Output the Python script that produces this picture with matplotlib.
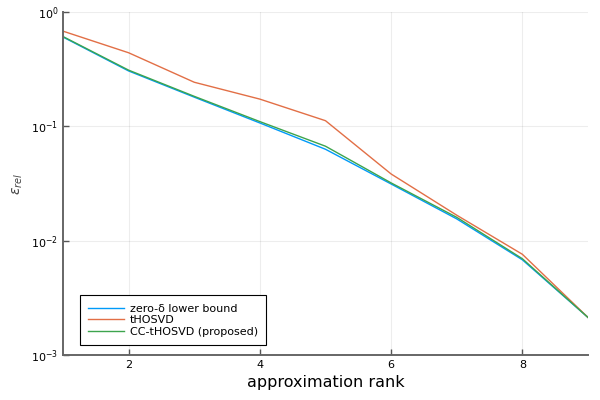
import matplotlib
matplotlib.use("Agg")
import matplotlib.pyplot as plt

ranks = [1, 2, 3, 4, 5, 6, 7, 8, 9]
zero_delta = [0.604, 0.305, 0.180, 0.107, 0.063, 0.0313, 0.0155, 0.0068, 0.00213]
thosvd = [0.68, 0.44, 0.243, 0.173, 0.112, 0.0383, 0.0167, 0.0076, 0.00213]
cc_thosvd = [0.61, 0.31, 0.183, 0.110, 0.067, 0.032, 0.016, 0.00695, 0.00213]
labels = ["zero-δ lower bound", "tHOSVD", "CC-tHOSVD (proposed)"]

fig = plt.figure(figsize=(6, 4), dpi=100)
ax = fig.add_axes([0.105, 0.1125, 0.875, 0.8575])

ax.plot(ranks, zero_delta, color="#009AF9", lw=1, label=labels[0])
ax.plot(ranks, thosvd, color="#E26F46", lw=1, label=labels[1])
ax.plot(ranks, cc_thosvd, color="#3DA44D", lw=1, label=labels[2])

ax.set_yscale("log")
ax.set_xlim(1, 9)
ax.set_ylim(1e-3, 1e0)
ax.set_xticks([2, 4, 6, 8])
ax.minorticks_off()
ax.grid(True, color="#000000", alpha=0.07, lw=0.8)
ax.tick_params(direction="in", labelsize=8, length=4, width=1, colors="#555555", labelcolor="black")

for s in ["top", "right"]:
    ax.spines[s].set_visible(False)
for s in ["left", "bottom"]:
    ax.spines[s].set_color("#666666")
    ax.spines[s].set_linewidth(1.4)

ax.set_xlabel("approximation rank", fontsize=11.5)
ax.set_ylabel(r"$\varepsilon_{rel}$", fontsize=10, color="#444444")
ax.yaxis.set_label_coords(-0.072, 0.5)

leg = ax.legend(loc="lower left", bbox_to_anchor=(0.028, 0.022), fontsize=8,
                fancybox=False, framealpha=1, edgecolor="black",
                handlelength=3.2, handletextpad=0.55, borderpad=0.75,
                labelspacing=0.15, borderaxespad=0.2)
leg.get_frame().set_linewidth(0.8)

fig.savefig("out.png")
